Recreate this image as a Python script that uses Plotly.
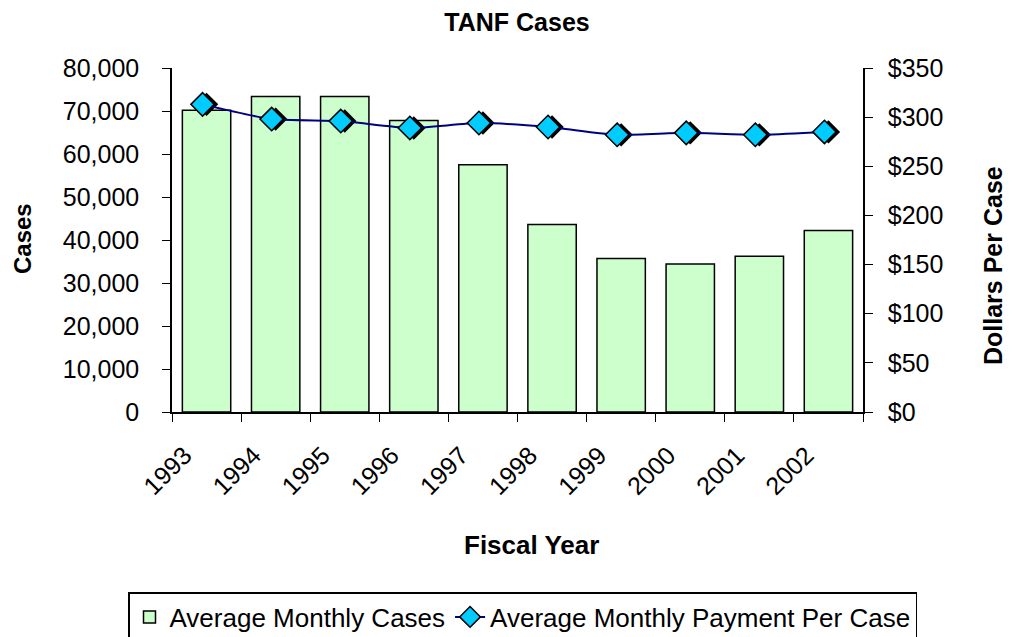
import plotly.graph_objects as go

# TANF data
years = ['1993', '1994', '1995', '1996', '1997', '1998', '1999', '2000', '2001', '2002']
cases = [70200, 73400, 73400, 67800, 57500, 43600, 35700, 34400, 36200, 42200]
payment = [313, 298, 296, 289, 294, 290, 282, 284, 282, 285]

FONT = 'Liberation Sans, Arial, sans-serif'
OFF = 8  # page body margin
W, H = 1014 - OFF, 637 - OFF
# plot area in window pixels
PX0, PX1, PY0, PY1 = 172, 863, 68, 412
PW, PH = PX1 - PX0, PY1 - PY0
L, T = PX0 - OFF, PY0 - OFF
R, B = W - (PX1 - OFF), H - (PY1 - OFF)


def px(xw):
    return (xw - PX0) / PW


def py(yw):
    return (PY1 - yw) / PH


# shadow offset (px) for the diamond markers
shift = 4
xr = [-0.5, 9.5]
yr2 = [0, 350]
# axes for the cyan markers + line, moved up-left by `shift` px relative to the main axes
e_x = shift / PW
e_y = shift / PH
xr3 = [xr[0] + shift * (xr[1] - xr[0]) / PW, 0]
xr3[1] = xr3[0] + (1 - e_x) * (xr[1] - xr[0])
yr3 = [yr2[0] + shift * (yr2[1] - yr2[0]) / PH, 0]
yr3[1] = yr3[0] + (1 - e_y) * (yr2[1] - yr2[0])

fig = go.Figure()

fig.add_trace(go.Bar(
    x=years, y=cases, name='Average Monthly Cases',
    marker=dict(color='#CCFFCC', line=dict(color='black', width=1.5)),
))

# black shadow diamonds
fig.add_trace(go.Scatter(
    x=list(range(len(years))), y=payment, mode='markers', yaxis='y2', xaxis='x2',
    marker=dict(symbol='diamond', size=18, color='black'),
    showlegend=False, cliponaxis=False, hoverinfo='skip',
))

fig.add_trace(go.Scatter(
    x=list(range(len(years))), y=payment, mode='lines+markers', xaxis='x3', yaxis='y3',
    name='Average Monthly Payment Per Case',
    line=dict(color='#000080', width=2, shape='spline', smoothing=0.6),
    marker=dict(symbol='diamond', size=18, color='#00CCFF', line=dict(color='black', width=1.5)),
    cliponaxis=False,
))

fig.update_layout(
    width=W, height=H,
    margin=dict(l=L, r=R, t=T, b=B, autoexpand=False),
    plot_bgcolor='rgba(0,0,0,0)', paper_bgcolor='white',
    font=dict(family=FONT, size=25, color='black'),
    bargap=0.3,
    title=dict(text='<b>TANF Cases</b>', x=(517 - OFF) / W, xanchor='center',
               y=1 - (22 - OFF) / H, yanchor='middle', font=dict(size=25)),
    xaxis=dict(type='category', domain=[0, 1], showline=True, linecolor='black', linewidth=1.5,
               ticks='outside', tickson='boundaries', ticklen=8, tickcolor='black',
               tickangle=-45, ticklabelshift=-22, ticklabelstandoff=17, showgrid=False,
               automargin=False),
    yaxis=dict(range=[0, 80000], dtick=10000, tickformat=',d', showline=True, linecolor='black',
               linewidth=1.5, ticks='outside', ticklen=8, tickcolor='black', showgrid=False,
               zeroline=False, ticklabelstandoff=18, automargin=False),
    xaxis2=dict(range=xr, domain=[0, 1], overlaying='x', visible=False),
    yaxis2=dict(range=yr2, dtick=50, tickprefix='$', side='right', overlaying='y',
                showline=True, linecolor='black', linewidth=1.5, ticks='outside', ticklen=8,
                tickcolor='black', showgrid=False, zeroline=False, ticklabelstandoff=10,
                automargin=False),
    xaxis3=dict(range=xr3, domain=[0, 1 - e_x], anchor='y3', visible=False),
    yaxis3=dict(range=yr3, domain=[e_y, 1], anchor='x3', visible=False),
    legend=dict(orientation='h', x=px(128), xanchor='left', y=py(592), yanchor='top',
                bordercolor='black', borderwidth=1.5, font=dict(size=26),
                itemwidth=30, tracegroupgap=0),
    annotations=[
        dict(text='<b>Fiscal Year</b>', xref='paper', yref='paper', x=px(531), y=py(545),
             xanchor='center', yanchor='middle', showarrow=False, font=dict(size=26)),
        dict(text='<b>Cases</b>', xref='paper', yref='paper', x=px(22), y=py(239),
             xanchor='center', yanchor='middle', textangle=-90, showarrow=False,
             font=dict(size=24)),
        dict(text='<b>Dollars Per Case</b>', xref='paper', yref='paper', x=px(993), y=py(266),
             xanchor='center', yanchor='middle', textangle=-90, showarrow=False,
             font=dict(size=25)),
    ],
)

fig.write_html('out.html')
